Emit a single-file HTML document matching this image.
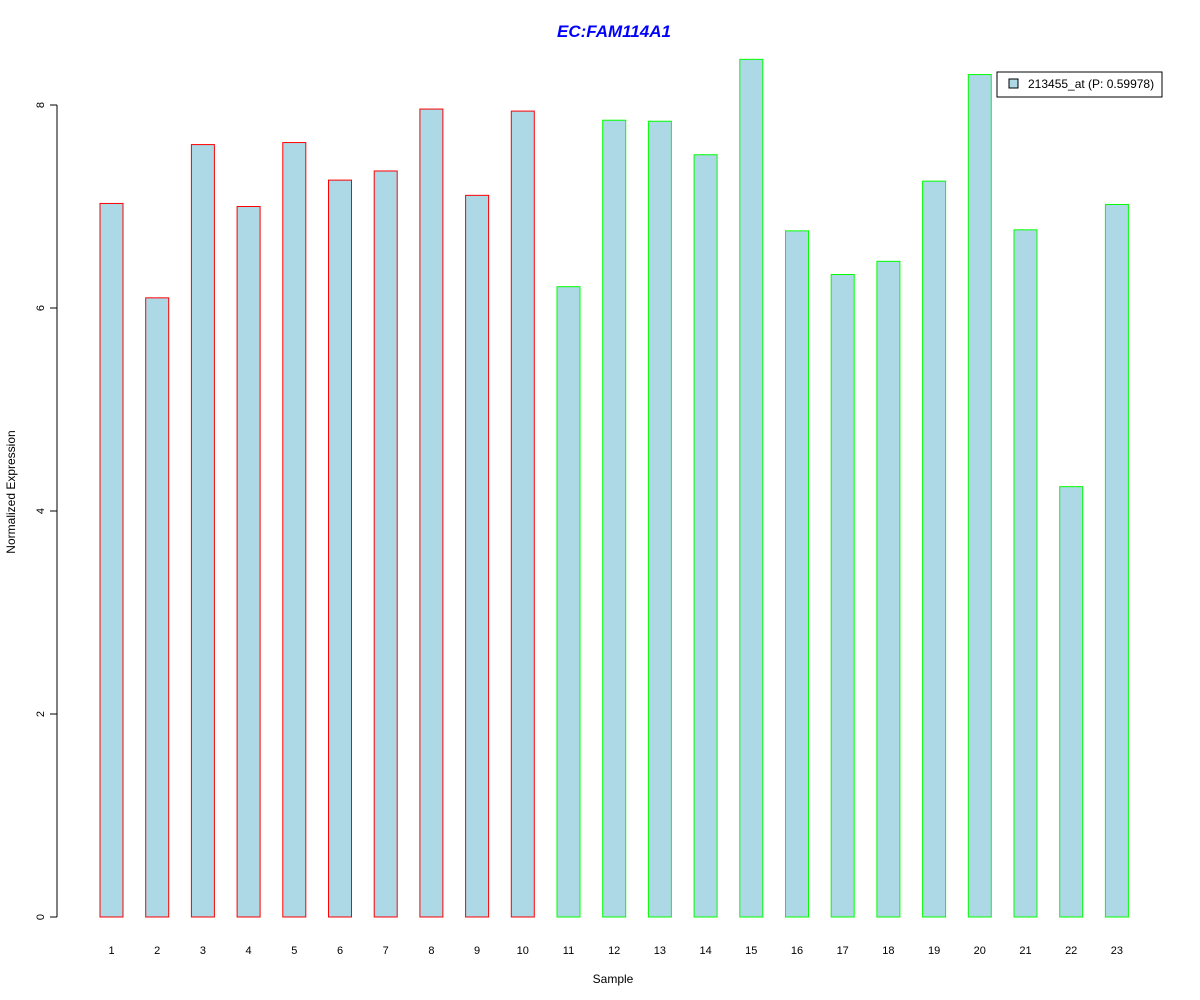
<!DOCTYPE html>
<html><head><meta charset="utf-8"><style>
body{margin:0;background:#fff}
svg{display:block;font-family:"Liberation Sans",Arial,sans-serif}
</style></head><body>
<svg id="chart" width="1200" height="1000">
<rect width="1200" height="1000" fill="#fff"/>
<text x="614" y="37" text-anchor="middle" font-size="17" font-weight="bold" font-style="italic" fill="#0000ff">EC:FAM114A1</text>
<text x="613" y="983" text-anchor="middle" font-size="12">Sample</text>
<text transform="translate(15,492) rotate(-90)" text-anchor="middle" font-size="12">Normalized Expression</text>
<g id="yaxis"></g>
<g id="bars"></g>
<g id="xlabels"></g>
<g>
<rect x="997" y="72" width="165" height="25" fill="#fff" stroke="#000" stroke-width="1"/>
<rect x="1009" y="79" width="9" height="9" fill="#add8e6" stroke="#000" stroke-width="1"/>
<text x="1028" y="88" font-size="12">213455_at (P: 0.59978)</text>
</g>
</svg>
<script>
const categories=["1","2","3","4","5","6","7","8","9","10","11","12","13","14","15","16","17","18","19","20","21","22","23"];
const values=[7.03,6.10,7.61,7.00,7.63,7.26,7.35,7.96,7.11,7.94,6.21,7.85,7.84,7.51,8.45,6.76,6.33,6.46,7.25,8.30,6.77,4.24,7.02];
const groups=["a","a","a","a","a","a","a","a","a","a","b","b","b","b","b","b","b","b","b","b","b","b","b"];
const yTicks=[0,2,4,6,8];
const NS="http://www.w3.org/2000/svg";
const y0=917,yUnit=101.5,x0=111.5,dx=45.7,bw=23;
const ys=v=>y0-v*yUnit;
const xs=i=>x0+i*dx;
const mk=(t,a,p)=>{const e=document.createElementNS(NS,t);for(const k in a)e.setAttribute(k,a[k]);p.appendChild(e);return e;};
const ya=document.getElementById('yaxis');
const al=mk('line',{x1:57,x2:57,y1:ys(yTicks[0]),y2:ys(yTicks[yTicks.length-1]),stroke:'#000'},ya);


yTicks.forEach(t=>{
 const l=mk('line',{x1:50,x2:57,y1:ys(t),y2:ys(t),stroke:'#000'},ya);
 
 
 const tx=mk('text',{transform:`translate(44,${ys(t)}) rotate(-90)`,'text-anchor':'middle','font-size':11},ya);
 tx.textContent=t;
 
 
});
const bg=document.getElementById('bars'),xl=document.getElementById('xlabels');
values.forEach((v,i)=>{
 const r=mk('rect',{x:xs(i)-bw/2,y:ys(v),width:bw,height:v*yUnit,fill:'#add8e6',stroke:groups[i]==='a'?'#ff0000':'#00ff00','stroke-width':1},bg);
 
 
 const t=mk('text',{x:xs(i),y:954,'text-anchor':'middle','font-size':11},xl);
 t.textContent=categories[i];
 
 
});
</script>
</body></html>
